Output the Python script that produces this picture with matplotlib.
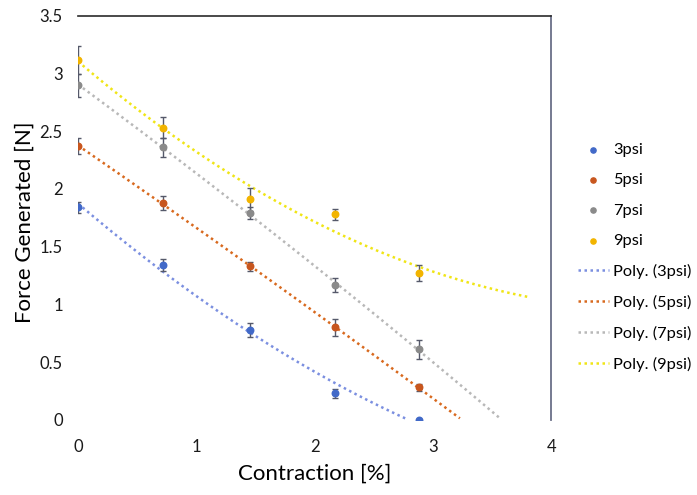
import matplotlib

matplotlib.use("Agg")
import matplotlib.pyplot as plt
import numpy as np

plt.rcParams["font.family"] = ["Lato", "DejaVu Sans"]

contraction = [0.0, 0.72, 1.45, 2.17, 2.88]

force_3psi = [1.84, 1.34, 0.78, 0.23, 0.0]
force_5psi = [2.37, 1.88, 1.33, 0.80, 0.28]
force_7psi = [2.90, 2.36, 1.79, 1.17, 0.61]
force_9psi = [3.12, 2.53, 1.91, 1.78, 1.27]

err_3psi = [0.05, 0.05, 0.06, 0.04, 0.0]
err_5psi = [0.07, 0.06, 0.04, 0.07, 0.03]
err_7psi = [0.10, 0.08, 0.05, 0.06, 0.08]
err_9psi = [0.12, 0.09, 0.10, 0.05, 0.07]

series_names = ["3psi", "5psi", "7psi", "9psi"]
point_colors = ["#4169C8", "#C8561E", "#8A8A8A", "#F2B400"]
trend_colors = ["#7B8FE0", "#D8691E", "#B8B8B8", "#F0E516"]

forward = 0.92  # trendline forecast beyond last point, like Excel

fig = plt.figure(figsize=(6.97, 4.95), dpi=100)
ax = fig.add_axes([0.112, 0.152, 0.679, 0.816])

series = [
    (force_3psi, err_3psi),
    (force_5psi, err_5psi),
    (force_7psi, err_7psi),
    (force_9psi, err_9psi),
]

point_handles = []
for (values, errs), name, color in zip(series, series_names, point_colors):
    ax.errorbar(
        contraction, values, yerr=errs, fmt="none",
        ecolor="#55596a", elinewidth=1.0, capsize=2.5, capthick=1.0, zorder=3,
    )
    handle = ax.scatter(contraction, values, s=22, color=color, zorder=4, label=name)
    point_handles.append(handle)

trend_handles = []
x_fit = np.linspace(contraction[0], contraction[-1] + forward, 200)
for (values, _), name, color in zip(series, series_names, trend_colors):
    coeffs = np.polyfit(contraction, values, 2)
    y_fit = np.polyval(coeffs, x_fit)
    keep = y_fit >= 0
    (line,) = ax.plot(
        x_fit[keep], y_fit[keep], color=color, linewidth=1.8,
        linestyle=(0, (1, 1.4)), zorder=2, label=f"Poly. ({name})",
    )
    trend_handles.append(line)

ax.set_xlim(0, 4)
ax.set_ylim(0, 3.5)
ax.set_xticks([0, 1, 2, 3, 4])
ax.set_yticks([0, 0.5, 1, 1.5, 2, 2.5, 3, 3.5])
ax.set_yticklabels(["0", "0.5", "1", "1.5", "2", "2.5", "3", "3.5"])
ax.tick_params(length=0, labelsize=12, colors="#1a1a1a")
ax.tick_params(axis="x", pad=14)
ax.tick_params(axis="y", pad=11)

for side in ("left", "bottom"):
    ax.spines[side].set_visible(False)
ax.spines["top"].set_color("#2a2a2a")
ax.spines["top"].set_linewidth(1.2)
ax.spines["right"].set_color("#6a6f88")
ax.spines["right"].set_linewidth(1.3)

ax.set_xlabel("Contraction [%]", fontsize=16, labelpad=6)
ax.set_ylabel("Force Generated [N]", fontsize=16)
ax.yaxis.set_label_coords(-0.092, 0.49)

fig.legend(
    handles=point_handles + trend_handles,
    loc="upper left", bbox_to_anchor=(0.808, 0.742),
    frameon=False, fontsize=11.8, labelspacing=0.97,
    handlelength=1.9, handletextpad=0.25, markerscale=0.8,
)

fig.savefig("out.png", dpi=100)
